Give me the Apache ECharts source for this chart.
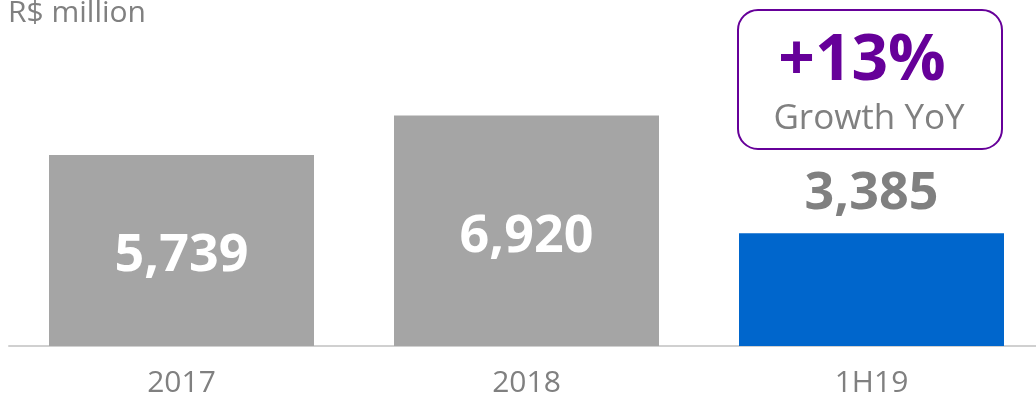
<!DOCTYPE html>
<html>
<head>
<meta charset="utf-8">
<style>
html,body{margin:0;padding:0;background:#fff;}
#chart{width:1036px;height:395px;}
</style>
<script src="https://cdn.jsdelivr.net/npm/echarts@6/dist/echarts.min.js"></script>
</head>
<body>
<div id="chart"></div>
<script>
var categories = ['2017', '2018', '1H19'];
var values = [5739, 6920, 3385];
var unitLabel = 'R$ million';
var growthValue = '+13%';
var growthLabel = 'Growth YoY';

var FONT = '"Open Sans", "Noto Sans", sans-serif';
var GRAY_BAR = '#A5A5A5';
var BLUE_BAR = '#0066CC';
var TEXT_GRAY = '#808080';
var PURPLE = '#660099';
var highlightIndex = 2;

var seriesData = values.map(function (v, i) {
  var hi = i === highlightIndex;
  return {
    value: v,
    itemStyle: { color: hi ? BLUE_BAR : GRAY_BAR },
    label: hi ? {
      position: 'top', distance: 13, color: TEXT_GRAY
    } : {
      position: 'inside', offset: [0, 6], color: '#ffffff'
    }
  };
});

var chart = echarts.init(document.getElementById('chart'), null, { renderer: 'canvas' });
chart.setOption({
  animation: false,
  backgroundColor: '#ffffff',
  grid: { left: 9, top: 13, width: 1035, bottom: 49, containLabel: false, outerBoundsMode: 'none' },
  xAxis: {
    type: 'category',
    data: categories,
    axisLine: { show: true, lineStyle: { color: '#D0D0D0', width: 2 } },
    axisTick: { show: false },
    axisLabel: { color: TEXT_GRAY, fontSize: 30, fontFamily: FONT, margin: 22 }
  },
  yAxis: {
    type: 'value', min: 0, max: 10000, interval: 2500,
    show: false, splitLine: { show: false }
  },
  series: [{
    type: 'bar',
    barWidth: 265,
    data: seriesData,
    label: {
      show: true,
      fontSize: 52, fontWeight: 'bold', fontFamily: FONT,
      formatter: function (p) { return p.value.toLocaleString('en-US'); }
    }
  }],
  graphic: [
    {
      type: 'text', left: 8, top: -2,
      style: { text: unitLabel, fill: TEXT_GRAY, font: '30px ' + FONT }
    },
    {
      type: 'rect', left: 737, top: 9,
      shape: { width: 264, height: 139, r: 20 },
      style: { fill: '#ffffff', stroke: PURPLE, lineWidth: 2 }
    },
    {
      type: 'text', x: 862, y: 62,
      style: { text: growthValue, fill: PURPLE, font: 'bold 64px ' + FONT, textAlign: 'center', textVerticalAlign: 'middle' }
    },
    {
      type: 'text', x: 869, y: 119,
      style: { text: growthLabel, fill: TEXT_GRAY, font: '35px ' + FONT, textAlign: 'center', textVerticalAlign: 'middle' }
    }
  ]
});
</script>
</body>
</html>
